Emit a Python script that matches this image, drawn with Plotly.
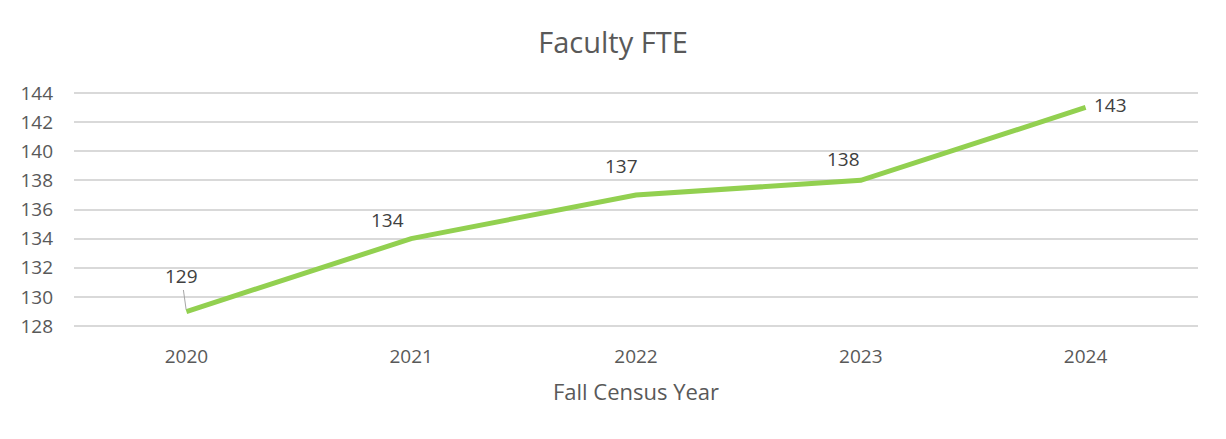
import plotly.graph_objects as go

# data
years = ["2020", "2021", "2022", "2023", "2024"]
faculty_fte = [129, 134, 137, 138, 143]

# label offsets (px) for each data label: (xshift, yshift, leader line)
label_offsets = [(-5, 36, True), (-24, 19, False), (-15, 29, False), (-17, 21, False), (25, 2, False)]

grey_text = "#595959"
font_family = "Open Sans, Liberation Sans, sans-serif"

fig = go.Figure()

fig.add_trace(go.Scatter(
    x=years, y=faculty_fte, mode="lines",
    line=dict(color="#92D050", width=5),
    showlegend=False, hoverinfo="skip"
))

# annotations use category index on the x axis
for i, (val, (dx, dy, leader)) in enumerate(zip(faculty_fte, label_offsets)):
    if leader:
        fig.add_annotation(
            x=i, y=val, text=str(val), showarrow=True,
            ax=dx, ay=-dy, arrowhead=0, arrowwidth=1, arrowcolor="#A6A6A6",
            standoff=2, font=dict(size=19, color="#404040", family=font_family)
        )
    else:
        fig.add_annotation(
            x=i, y=val, text=str(val), showarrow=False,
            xshift=dx, yshift=dy,
            font=dict(size=19, color="#404040", family=font_family)
        )

# page body adds ~8px offset, so figure is a bit smaller than the window
fig.update_layout(
    title=dict(text="Faculty FTE", x=0.5, xanchor="center", y=0.917, yanchor="middle",
               font=dict(size=29, color=grey_text, family=font_family)),
    width=1210, height=423,
    margin=dict(l=64, r=20, t=82, b=102),
    plot_bgcolor="white", paper_bgcolor="white",
    font=dict(family=font_family, color=grey_text),
)

fig.update_xaxes(
    type="category", range=[-0.5, 4.5],
    showgrid=False, showline=False, zeroline=False, ticks="",
    tickfont=dict(size=19, color=grey_text),
    ticklabelstandoff=14,
    title=dict(text="Fall Census Year", font=dict(size=22, color=grey_text), standoff=16),
)
fig.update_yaxes(
    range=[127.8, 144.2], dtick=2, tick0=128,
    showgrid=True, gridcolor="#D9D9D9", gridwidth=1.5,
    zeroline=False, showline=False, ticks="",
    tickfont=dict(size=19, color=grey_text),
    ticklabelstandoff=20,
)

fig.write_html("out.html")
